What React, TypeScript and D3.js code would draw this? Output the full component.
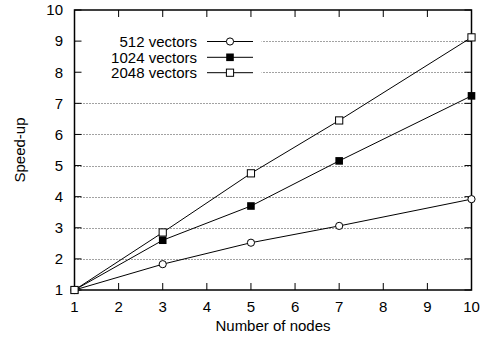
import React from "react";
import * as d3 from "d3";

const nodes = [1, 3, 5, 7, 10];
const speedup512 = [1, 1.83, 2.52, 3.06, 3.92];
const speedup1024 = [1, 2.6, 3.7, 5.15, 7.24];
const speedup2048 = [1, 2.85, 4.75, 6.45, 9.12];
const seriesNames = ["512 vectors", "1024 vectors", "2048 vectors"];
const xTicks = [1, 2, 3, 4, 5, 6, 7, 8, 9, 10];
const yTicks = [1, 2, 3, 4, 5, 6, 7, 8, 9, 10];

const W = 481;
const H = 343;
const M = { left: 74.5, right: 471.5, top: 10, bottom: 290 };
const FONT = "'Liberation Sans', Arial, Helvetica, sans-serif";

function Marker({ kind, x, y }: { kind: number; x: number; y: number }) {
  if (kind === 0) {
    return <circle cx={x} cy={y} r={3.6} fill="white" stroke="black" strokeWidth={1} />;
  }
  if (kind === 1) {
    return <rect x={x - 3.8} y={y - 3.8} width={7.6} height={7.6} fill="black" />;
  }
  return (
    <rect x={x - 3.6} y={y - 3.6} width={7.2} height={7.2} fill="white" stroke="black" strokeWidth={1} />
  );
}

export default function App() {
  const x = d3.scaleLinear().domain([1, 10]).range([M.left, M.right]);
  const y = d3.scaleLinear().domain([1, 10]).range([M.bottom, M.top]);
  const series = [speedup512, speedup1024, speedup2048];
  const line = d3
    .line<[number, number]>()
    .x((d) => x(d[0]))
    .y((d) => y(d[1]));

  const legendX0 = 207;
  const legendX1 = 253;
  const legendRows = [41.5, 57.3, 72.7];

  return (
    <svg
      width={W}
      height={H}
      style={{ position: "absolute", left: 0, top: 0, background: "white" }}
      fontFamily={FONT}
    >
      <rect x={0} y={0} width={W} height={H} fill="white" />
      {/* horizontal dotted grid */}
      {yTicks
        .filter((t) => t > 1 && t < 10)
        .map((t) => (
          <line
            key={"g" + t}
            x1={M.left}
            x2={M.right}
            y1={Math.round(y(t)) + 0.5}
            y2={Math.round(y(t)) + 0.5}
            stroke="#444"
            strokeWidth={1}
            strokeDasharray="1,2"
          />
        ))}
      {/* legend background */}
      <rect x={M.left + 1} y={30} width={186} height={53} fill="white" />
      {/* ticks */}
      {yTicks.map((t) => (
        <g key={"yt" + t}>
          <line x1={M.left} x2={M.left + 7} y1={y(t)} y2={y(t)} stroke="black" />
          <line x1={M.right} x2={M.right - 7} y1={y(t)} y2={y(t)} stroke="black" />
          <text x={63} y={y(t) + 5.3} textAnchor="end" fontSize={15}>
            {t}
          </text>
        </g>
      ))}
      {xTicks.map((t) => (
        <g key={"xt" + t}>
          <line x1={x(t)} x2={x(t)} y1={M.bottom} y2={M.bottom - 7} stroke="black" />
          <line x1={x(t)} x2={x(t)} y1={M.top} y2={M.top + 7} stroke="black" />
          <text x={x(t)} y={312} textAnchor="middle" fontSize={15}>
            {t}
          </text>
        </g>
      ))}
      {/* frame */}
      <rect
        x={M.left}
        y={M.top}
        width={M.right - M.left}
        height={M.bottom - M.top}
        fill="none"
        stroke="black"
        strokeWidth={1.5}
      />
      {/* series */}
      {series.map((vals, i) => (
        <path
          key={"l" + i}
          d={line(nodes.map((n, j) => [n, vals[j]] as [number, number])) || ""}
          fill="none"
          stroke="black"
          strokeWidth={1}
        />
      ))}
      {series.map((vals, i) =>
        nodes.map((n, j) => <Marker key={"m" + i + "-" + j} kind={i} x={x(n)} y={y(vals[j])} />)
      )}
      {/* legend */}
      {seriesNames.map((name, i) => (
        <g key={"lg" + i}>
          <text x={197} y={legendRows[i] + 5.3} textAnchor="end" fontSize={15}>
            {name}
          </text>
          <line x1={legendX0} x2={legendX1} y1={legendRows[i]} y2={legendRows[i]} stroke="black" />
          <Marker kind={i} x={(legendX0 + legendX1) / 2} y={legendRows[i]} />
        </g>
      ))}
      {/* axis titles */}
      <text x={273} y={331} textAnchor="middle" fontSize={15}>
        Number of nodes
      </text>
      <text
        transform={`translate(25,150) rotate(-90)`}
        textAnchor="middle"
        fontSize={15}
      >
        Speed-up
      </text>
    </svg>
  );
}
